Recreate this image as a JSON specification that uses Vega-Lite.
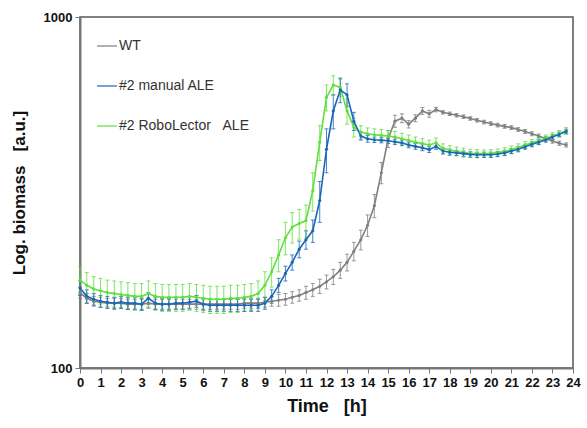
{
  "$schema": "https://vega.github.io/schema/vega-lite/v6.json",
  "width": 493,
  "height": 351,
  "autosize": {"type": "none"},
  "padding": {"left": 80, "top": 17, "right": 14, "bottom": 60},
  "background": "white",
  "config": {
    "font": "Liberation Sans",
    "view": {"stroke": "#555555", "strokeWidth": 1.5},
    "axis": {"grid": false, "domainColor": "#777777", "domainWidth": 2, "tickColor": "#777777", "tickSize": 5, "labelFont": "Liberation Sans", "labelFontWeight": "bold", "labelFontSize": 13, "labelColor": "#111111", "titleFont": "Liberation Sans", "titleFontWeight": "bold", "titleColor": "#111111"}
  },
  "datasets": {
    "d": [
      {"s":"WT","t":0,"v":164,"e":6},{"s":"WT","t":0.33,"v":158,"e":5},{"s":"WT","t":0.67,"v":155,"e":5},{"s":"WT","t":1,"v":154,"e":5},{"s":"WT","t":1.33,"v":153,"e":5},{"s":"WT","t":1.67,"v":153,"e":5},{"s":"WT","t":2,"v":153,"e":5},{"s":"WT","t":2.33,"v":152,"e":5},{"s":"WT","t":2.67,"v":152,"e":5},{"s":"WT","t":3,"v":152,"e":5},{"s":"WT","t":3.33,"v":153,"e":5},{"s":"WT","t":3.67,"v":152,"e":5},{"s":"WT","t":4,"v":152,"e":5},{"s":"WT","t":4.33,"v":152,"e":5},{"s":"WT","t":4.67,"v":152,"e":5},{"s":"WT","t":5,"v":152,"e":5},{"s":"WT","t":5.33,"v":152,"e":5},{"s":"WT","t":5.67,"v":152,"e":5},{"s":"WT","t":6,"v":152,"e":5},{"s":"WT","t":6.33,"v":152,"e":5},{"s":"WT","t":6.67,"v":152,"e":5},{"s":"WT","t":7,"v":152,"e":5},{"s":"WT","t":7.33,"v":152,"e":5},{"s":"WT","t":7.67,"v":152,"e":5},{"s":"WT","t":8,"v":153,"e":5},{"s":"WT","t":8.33,"v":153,"e":5},{"s":"WT","t":8.67,"v":153,"e":5},{"s":"WT","t":9,"v":154,"e":5},{"s":"WT","t":9.33,"v":155,"e":5},{"s":"WT","t":9.67,"v":156,"e":6},{"s":"WT","t":10,"v":157,"e":6},{"s":"WT","t":10.33,"v":159,"e":6},{"s":"WT","t":10.67,"v":161,"e":6},{"s":"WT","t":11,"v":164,"e":7},{"s":"WT","t":11.33,"v":167,"e":7},{"s":"WT","t":11.67,"v":171,"e":8},{"s":"WT","t":12,"v":176,"e":8},{"s":"WT","t":12.33,"v":182,"e":9},{"s":"WT","t":12.67,"v":190,"e":10},{"s":"WT","t":13,"v":200,"e":11},{"s":"WT","t":13.33,"v":215,"e":13},{"s":"WT","t":13.67,"v":232,"e":15},{"s":"WT","t":14,"v":255,"e":18},{"s":"WT","t":14.33,"v":290,"e":22},{"s":"WT","t":14.67,"v":360,"e":25},{"s":"WT","t":15,"v":450,"e":25},{"s":"WT","t":15.33,"v":505,"e":20},{"s":"WT","t":15.67,"v":515,"e":15},{"s":"WT","t":16,"v":495,"e":12},{"s":"WT","t":16.33,"v":515,"e":12},{"s":"WT","t":16.67,"v":540,"e":12},{"s":"WT","t":17,"v":530,"e":12},{"s":"WT","t":17.33,"v":545,"e":8},{"s":"WT","t":17.67,"v":535,"e":6},{"s":"WT","t":18,"v":530,"e":6},{"s":"WT","t":18.33,"v":525,"e":6},{"s":"WT","t":18.67,"v":520,"e":6},{"s":"WT","t":19,"v":514,"e":6},{"s":"WT","t":19.33,"v":508,"e":6},{"s":"WT","t":19.67,"v":502,"e":6},{"s":"WT","t":20,"v":497,"e":6},{"s":"WT","t":20.33,"v":492,"e":6},{"s":"WT","t":20.67,"v":488,"e":6},{"s":"WT","t":21,"v":484,"e":6},{"s":"WT","t":21.33,"v":478,"e":6},{"s":"WT","t":21.67,"v":472,"e":6},{"s":"WT","t":22,"v":465,"e":6},{"s":"WT","t":22.33,"v":458,"e":6},{"s":"WT","t":22.67,"v":450,"e":6},{"s":"WT","t":23,"v":443,"e":6},{"s":"WT","t":23.33,"v":437,"e":6},{"s":"WT","t":23.67,"v":432,"e":6},

      {"s":"#2 RoboLector   ALE","t":0,"v":178,"e":16},{"s":"#2 RoboLector   ALE","t":0.33,"v":172,"e":15},{"s":"#2 RoboLector   ALE","t":0.67,"v":168,"e":14},{"s":"#2 RoboLector   ALE","t":1,"v":166,"e":14},{"s":"#2 RoboLector   ALE","t":1.33,"v":164,"e":14},{"s":"#2 RoboLector   ALE","t":1.67,"v":163,"e":14},{"s":"#2 RoboLector   ALE","t":2,"v":162,"e":14},{"s":"#2 RoboLector   ALE","t":2.33,"v":161,"e":14},{"s":"#2 RoboLector   ALE","t":2.67,"v":160,"e":14},{"s":"#2 RoboLector   ALE","t":3,"v":160,"e":14},{"s":"#2 RoboLector   ALE","t":3.33,"v":163,"e":14},{"s":"#2 RoboLector   ALE","t":3.67,"v":160,"e":14},{"s":"#2 RoboLector   ALE","t":4,"v":159,"e":14},{"s":"#2 RoboLector   ALE","t":4.33,"v":159,"e":14},{"s":"#2 RoboLector   ALE","t":4.67,"v":159,"e":14},{"s":"#2 RoboLector   ALE","t":5,"v":159,"e":14},{"s":"#2 RoboLector   ALE","t":5.33,"v":160,"e":14},{"s":"#2 RoboLector   ALE","t":5.67,"v":159,"e":14},{"s":"#2 RoboLector   ALE","t":6,"v":158,"e":14},{"s":"#2 RoboLector   ALE","t":6.33,"v":157,"e":14},{"s":"#2 RoboLector   ALE","t":6.67,"v":157,"e":14},{"s":"#2 RoboLector   ALE","t":7,"v":157,"e":14},{"s":"#2 RoboLector   ALE","t":7.33,"v":158,"e":14},{"s":"#2 RoboLector   ALE","t":7.67,"v":158,"e":14},{"s":"#2 RoboLector   ALE","t":8,"v":159,"e":14},{"s":"#2 RoboLector   ALE","t":8.33,"v":160,"e":14},{"s":"#2 RoboLector   ALE","t":8.67,"v":163,"e":14},{"s":"#2 RoboLector   ALE","t":9,"v":172,"e":16},{"s":"#2 RoboLector   ALE","t":9.33,"v":188,"e":18},{"s":"#2 RoboLector   ALE","t":9.67,"v":210,"e":22},{"s":"#2 RoboLector   ALE","t":10,"v":235,"e":25},{"s":"#2 RoboLector   ALE","t":10.33,"v":252,"e":25},{"s":"#2 RoboLector   ALE","t":10.67,"v":258,"e":25},{"s":"#2 RoboLector   ALE","t":11,"v":263,"e":28},{"s":"#2 RoboLector   ALE","t":11.33,"v":320,"e":40},{"s":"#2 RoboLector   ALE","t":11.67,"v":440,"e":50},{"s":"#2 RoboLector   ALE","t":12,"v":590,"e":50},{"s":"#2 RoboLector   ALE","t":12.33,"v":640,"e":40},{"s":"#2 RoboLector   ALE","t":12.67,"v":630,"e":35},{"s":"#2 RoboLector   ALE","t":13,"v":540,"e":45},{"s":"#2 RoboLector   ALE","t":13.33,"v":485,"e":30},{"s":"#2 RoboLector   ALE","t":13.67,"v":470,"e":20},{"s":"#2 RoboLector   ALE","t":14,"v":465,"e":18},{"s":"#2 RoboLector   ALE","t":14.33,"v":462,"e":18},{"s":"#2 RoboLector   ALE","t":14.67,"v":460,"e":18},{"s":"#2 RoboLector   ALE","t":15,"v":458,"e":17},{"s":"#2 RoboLector   ALE","t":15.33,"v":455,"e":17},{"s":"#2 RoboLector   ALE","t":15.67,"v":450,"e":16},{"s":"#2 RoboLector   ALE","t":16,"v":445,"e":16},{"s":"#2 RoboLector   ALE","t":16.33,"v":440,"e":15},{"s":"#2 RoboLector   ALE","t":16.67,"v":436,"e":15},{"s":"#2 RoboLector   ALE","t":17,"v":432,"e":14},{"s":"#2 RoboLector   ALE","t":17.33,"v":438,"e":14},{"s":"#2 RoboLector   ALE","t":17.67,"v":422,"e":13},{"s":"#2 RoboLector   ALE","t":18,"v":418,"e":12},{"s":"#2 RoboLector   ALE","t":18.33,"v":414,"e":12},{"s":"#2 RoboLector   ALE","t":18.67,"v":411,"e":12},{"s":"#2 RoboLector   ALE","t":19,"v":409,"e":11},{"s":"#2 RoboLector   ALE","t":19.33,"v":408,"e":11},{"s":"#2 RoboLector   ALE","t":19.67,"v":408,"e":10},{"s":"#2 RoboLector   ALE","t":20,"v":409,"e":10},{"s":"#2 RoboLector   ALE","t":20.33,"v":411,"e":10},{"s":"#2 RoboLector   ALE","t":20.67,"v":414,"e":10},{"s":"#2 RoboLector   ALE","t":21,"v":419,"e":10},{"s":"#2 RoboLector   ALE","t":21.33,"v":425,"e":10},{"s":"#2 RoboLector   ALE","t":21.67,"v":432,"e":10},{"s":"#2 RoboLector   ALE","t":22,"v":438,"e":10},{"s":"#2 RoboLector   ALE","t":22.33,"v":444,"e":10},{"s":"#2 RoboLector   ALE","t":22.67,"v":451,"e":10},{"s":"#2 RoboLector   ALE","t":23,"v":458,"e":10},{"s":"#2 RoboLector   ALE","t":23.33,"v":465,"e":10},{"s":"#2 RoboLector   ALE","t":23.67,"v":474,"e":10},

      {"s":"#2 manual ALE","t":0,"v":169,"e":8},{"s":"#2 manual ALE","t":0.33,"v":160,"e":7},{"s":"#2 manual ALE","t":0.67,"v":157,"e":6},{"s":"#2 manual ALE","t":1,"v":155,"e":6},{"s":"#2 manual ALE","t":1.33,"v":154,"e":6},{"s":"#2 manual ALE","t":1.67,"v":153,"e":6},{"s":"#2 manual ALE","t":2,"v":154,"e":6},{"s":"#2 manual ALE","t":2.33,"v":153,"e":6},{"s":"#2 manual ALE","t":2.67,"v":153,"e":6},{"s":"#2 manual ALE","t":3,"v":152,"e":6},{"s":"#2 manual ALE","t":3.33,"v":158,"e":6},{"s":"#2 manual ALE","t":3.67,"v":153,"e":6},{"s":"#2 manual ALE","t":4,"v":152,"e":6},{"s":"#2 manual ALE","t":4.33,"v":152,"e":6},{"s":"#2 manual ALE","t":4.67,"v":153,"e":6},{"s":"#2 manual ALE","t":5,"v":153,"e":6},{"s":"#2 manual ALE","t":5.33,"v":154,"e":6},{"s":"#2 manual ALE","t":5.67,"v":155,"e":6},{"s":"#2 manual ALE","t":6,"v":152,"e":6},{"s":"#2 manual ALE","t":6.33,"v":151,"e":6},{"s":"#2 manual ALE","t":6.67,"v":151,"e":6},{"s":"#2 manual ALE","t":7,"v":151,"e":6},{"s":"#2 manual ALE","t":7.33,"v":151,"e":6},{"s":"#2 manual ALE","t":7.67,"v":151,"e":6},{"s":"#2 manual ALE","t":8,"v":151,"e":6},{"s":"#2 manual ALE","t":8.33,"v":151,"e":6},{"s":"#2 manual ALE","t":8.67,"v":151,"e":6},{"s":"#2 manual ALE","t":9,"v":153,"e":6},{"s":"#2 manual ALE","t":9.33,"v":160,"e":7},{"s":"#2 manual ALE","t":9.67,"v":172,"e":8},{"s":"#2 manual ALE","t":10,"v":186,"e":9},{"s":"#2 manual ALE","t":10.33,"v":200,"e":10},{"s":"#2 manual ALE","t":10.67,"v":218,"e":12},{"s":"#2 manual ALE","t":11,"v":232,"e":14},{"s":"#2 manual ALE","t":11.33,"v":246,"e":18},{"s":"#2 manual ALE","t":11.67,"v":300,"e":40},{"s":"#2 manual ALE","t":12,"v":420,"e":60},{"s":"#2 manual ALE","t":12.33,"v":540,"e":60},{"s":"#2 manual ALE","t":12.67,"v":620,"e":50},{"s":"#2 manual ALE","t":13,"v":600,"e":45},{"s":"#2 manual ALE","t":13.33,"v":505,"e":30},{"s":"#2 manual ALE","t":13.67,"v":458,"e":12},{"s":"#2 manual ALE","t":14,"v":450,"e":10},{"s":"#2 manual ALE","t":14.33,"v":447,"e":8},{"s":"#2 manual ALE","t":14.67,"v":446,"e":8},{"s":"#2 manual ALE","t":15,"v":444,"e":8},{"s":"#2 manual ALE","t":15.33,"v":441,"e":8},{"s":"#2 manual ALE","t":15.67,"v":438,"e":8},{"s":"#2 manual ALE","t":16,"v":432,"e":8},{"s":"#2 manual ALE","t":16.33,"v":428,"e":8},{"s":"#2 manual ALE","t":16.67,"v":424,"e":8},{"s":"#2 manual ALE","t":17,"v":419,"e":8},{"s":"#2 manual ALE","t":17.33,"v":428,"e":8},{"s":"#2 manual ALE","t":17.67,"v":415,"e":8},{"s":"#2 manual ALE","t":18,"v":412,"e":8},{"s":"#2 manual ALE","t":18.33,"v":410,"e":7},{"s":"#2 manual ALE","t":18.67,"v":408,"e":7},{"s":"#2 manual ALE","t":19,"v":406,"e":7},{"s":"#2 manual ALE","t":19.33,"v":405,"e":7},{"s":"#2 manual ALE","t":19.67,"v":405,"e":7},{"s":"#2 manual ALE","t":20,"v":405,"e":7},{"s":"#2 manual ALE","t":20.33,"v":407,"e":7},{"s":"#2 manual ALE","t":20.67,"v":410,"e":7},{"s":"#2 manual ALE","t":21,"v":415,"e":7},{"s":"#2 manual ALE","t":21.33,"v":420,"e":7},{"s":"#2 manual ALE","t":21.67,"v":427,"e":7},{"s":"#2 manual ALE","t":22,"v":434,"e":7},{"s":"#2 manual ALE","t":22.33,"v":440,"e":7},{"s":"#2 manual ALE","t":22.67,"v":447,"e":7},{"s":"#2 manual ALE","t":23,"v":455,"e":7},{"s":"#2 manual ALE","t":23.33,"v":463,"e":7},{"s":"#2 manual ALE","t":23.67,"v":472,"e":7}
    ]
  },
  "data": {"name": "d"},
  "encoding": {
    "x": {"field": "t", "type": "quantitative", "scale": {"domain": [0, 24], "nice": false}, "axis": {"values": [0,1,2,3,4,5,6,7,8,9,10,11,12,13,14,15,16,17,18,19,20,21,22,23,24], "title": "Time\u00a0\u00a0\u00a0[h]", "titleFontSize": 18, "titlePadding": 8, "labelPadding": 3, "labelFlush": false}},
    "y": {"field": "v", "type": "quantitative", "scale": {"type": "log", "domain": [100, 1000], "nice": false}, "axis": {"values": [100, 1000], "format": "d", "title": "Log. biomass\u00a0\u00a0\u00a0[a.u.]", "titleFontSize": 17, "titlePadding": 15, "labelPadding": 3}},
    "color": {"field": "s", "type": "nominal", "scale": {"domain": ["WT", "#2 manual ALE", "#2 RoboLector   ALE"], "range": ["#808080", "#1a66b8", "#5fe03c"]}, "legend": {"orient": "none", "legendX": 16, "legendY": 18, "title": null, "symbolType": "stroke", "symbolStrokeWidth": 1.5, "symbolSize": 400, "labelFontSize": 14, "labelColor": "#333333", "labelFont": "Liberation Sans", "rowPadding": 22, "labelOffset": 1, "labelExpr": "replace(datum.label, '   ', '\u00a0\u00a0\u00a0')"}}
  },
  "layer": [
    {"mark": {"type": "errorbar", "ticks": {"size": 4}, "thickness": 1, "opacity": 0.8}, "encoding": {"yError": {"field": "e"}}},
    {"mark": {"type": "line", "strokeWidth": 1.6}},
    {"mark": {"type": "point", "filled": true, "opacity": 1, "size": 10}}
  ]
}
